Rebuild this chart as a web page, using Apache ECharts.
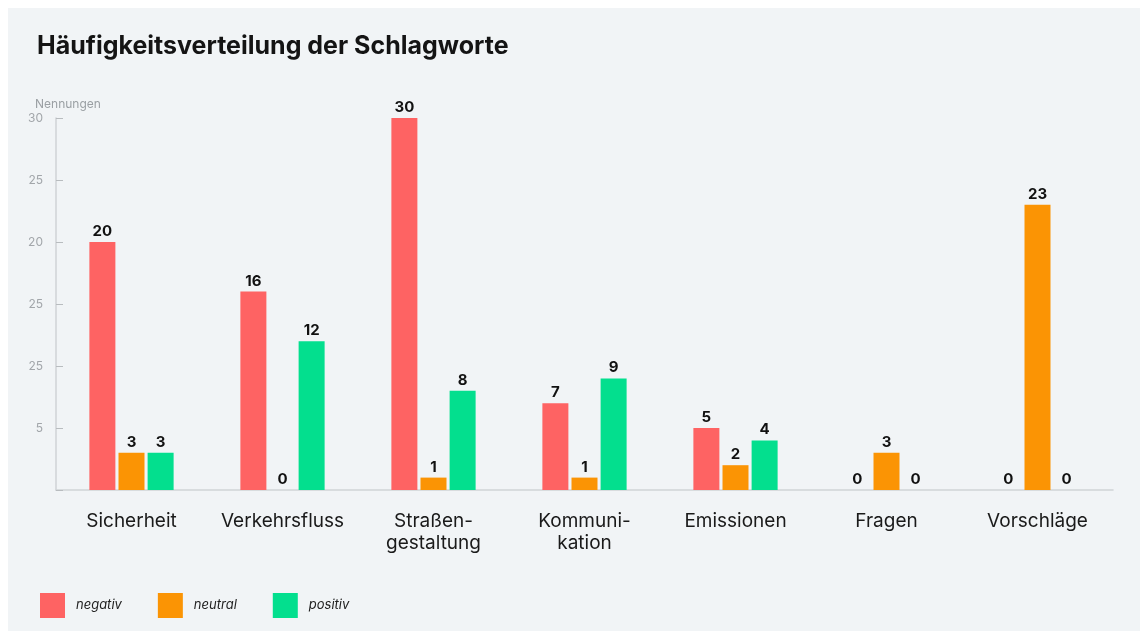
<!DOCTYPE html>
<html><head><meta charset="utf-8">
<script src="https://cdn.jsdelivr.net/npm/echarts@6/dist/echarts.min.js"></script>
<style>
html,body{margin:0;padding:0;background:#fff;}
#wrap{position:absolute;left:8px;top:8px;width:1132px;height:623px;background:#f1f4f6;}
#c{position:absolute;left:0;top:0;width:1147px;height:631px;}
</style></head>
<body><div id="wrap"></div><div id="c"></div>
<script>
const categories = ['Sicherheit','Verkehrsfluss','Straßen-\ngestaltung','Kommuni-\nkation','Emissionen','Fragen','Vorschläge'];
const negativ = [20,16,30,7,5,0,0];
const neutral = [3,0,1,1,2,3,23];
const positiv = [3,12,8,9,4,0,0];
const yTickLabels = {30:'30',25:'25',20:'20',15:'25',10:'25',5:'5',0:''};
const seriesNames = ['negativ','neutral','positiv'];
const colors = ['#fe6363','#fb9404','#03df8e'];
const FONT = 'Inter';

const chart = echarts.init(document.getElementById('c'), null, {renderer:'canvas'});
const label = {show:true, position:'top', distance:3, color:'#111', fontFamily:FONT, fontWeight:'bold', fontSize:15};
function mk(name, data, color){
  return {name, type:'bar', data, barWidth:26, barGap:'12%', itemStyle:{color}, label, emphasis:{disabled:true}};
}
chart.setOption({
  animation:false,
  backgroundColor:'transparent',
  title:[
    {text:'Häufigkeitsverteilung der Schlagworte', left:32, top:29,
     textStyle:{fontFamily:FONT, fontWeight:'bold', fontSize:25, color:'#141414'}},
    {text:'Nennungen', left:30, top:93, textStyle:{fontFamily:FONT, fontWeight:'normal', fontSize:12, color:'#9a9fa3'}}
  ],
  legend:{left:35, top:588, itemWidth:25, itemHeight:25, itemGap:36, icon:'rect',
    textStyle:{fontFamily:FONT, fontStyle:'italic', fontSize:13, color:'#222', padding:[0,0,0,6]},
    data:seriesNames},
  grid:{left:56, right:34, top:118, bottom:141},
  xAxis:{type:'category', data:categories,
    axisLine:{show:true, lineStyle:{color:'#cfd3d6', width:1.5}},
    axisTick:{show:false},
    axisLabel:{interval:0, margin:20, color:'#1a1a1a', fontFamily:FONT, fontSize:19, lineHeight:22}},
  yAxis:{type:'value', min:0, max:30, interval:5,
    axisLine:{show:true, lineStyle:{color:'#cfd3d6', width:1.5}},
    axisTick:{show:true, inside:true, length:7, lineStyle:{color:'#b8bcbf'}},
    splitLine:{show:false},
    axisLabel:{margin:13, color:'#a2a6aa', fontFamily:FONT, fontSize:12,
      formatter:v=>yTickLabels[v]}},
  series:[mk(seriesNames[0],negativ,colors[0]), mk(seriesNames[1],neutral,colors[1]), mk(seriesNames[2],positiv,colors[2])]
});
</script></body></html>
